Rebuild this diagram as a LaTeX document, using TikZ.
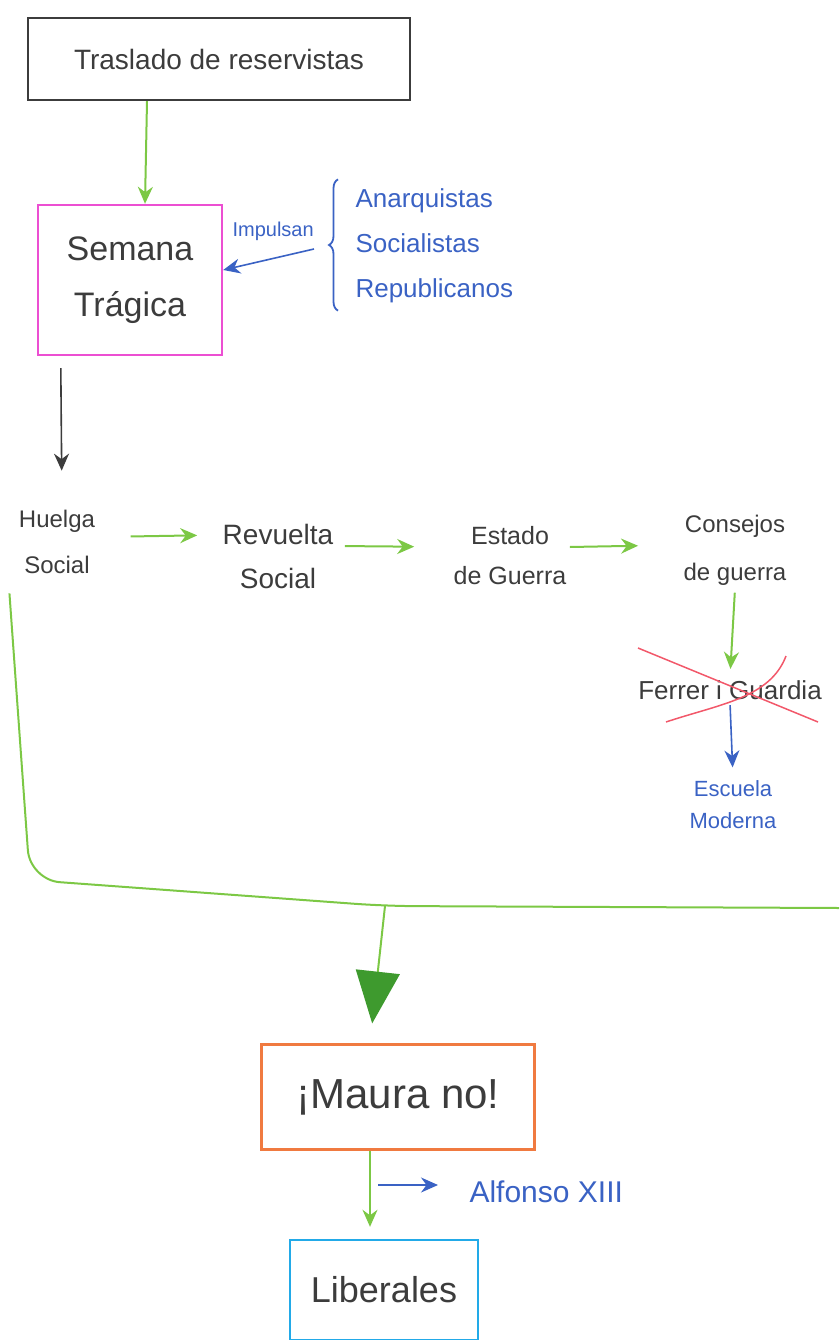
\documentclass[tikz,border=0pt]{standalone}
\usepackage{fontspec}
\setmainfont{Liberation Sans}
\usetikzlibrary{arrows.meta,decorations.pathreplacing}
\definecolor{tinta}{HTML}{3C3C3C}
\definecolor{verde}{HTML}{7CC845}
\definecolor{verdeosc}{HTML}{3E9A2E}
\definecolor{azul}{HTML}{3A62C4}
\definecolor{rosa}{HTML}{EC4FD2}
\definecolor{naranja}{HTML}{F07A40}
\definecolor{celeste}{HTML}{22AAE8}
\definecolor{rojo}{HTML}{F2586A}
\begin{document}
\begin{tikzpicture}[x=1pt, y=-1pt, >={Stealth[length=17pt, width=15pt]},
    caja/.style={draw, line width=2.4pt, inner sep=0pt},
    texto/.style={text=tinta, align=center},
    flecha/.style={->, line width=2pt, draw=verde, color=verde}]
    \useasboundingbox (0,0) rectangle (839,1340);
    % Cajas
    \node[caja, texto, draw=tinta, minimum width=382, minimum height=82, font=\fontsize{28}{34}\selectfont] (traslado) at (219,59) {Traslado de reservistas};
    \node[caja, texto, draw=rosa, minimum width=184, minimum height=150, font=\fontsize{34}{56}\selectfont] (semana) at (130,280) {Semana\\Trágica};
    \node[caja, texto, draw=naranja, minimum width=273, minimum height=105, font=\fontsize{42}{50}\selectfont] (maura) at (398,1097) {¡Maura no!};
    \node[caja, texto, draw=celeste, minimum width=188, minimum height=100, font=\fontsize{36}{42}\selectfont] (liberales) at (384,1290) {Liberales};
    % Partidos
    \node[text=azul, align=left, anchor=west, font=\fontsize{26}{45}\selectfont] (partidos) at (352,246) {Anarquistas\\Socialistas\\Republicanos};
    \draw[azul, line width=1.8pt, decorate, decoration={brace, amplitude=9pt}] ([xshift=-14, yshift=-4]partidos.south west) -- ([xshift=-14, yshift=6]partidos.north west) coordinate[midway] (llave);
    \draw[azul, line width=1.6pt, ->] ([xshift=-24, yshift=-4]llave) -- ([yshift=10]semana.east) node[pos=0.45, above=14pt, font=\fontsize{20}{24}\selectfont] {Impulsan};
    % Fila
    \node[texto, font=\fontsize{24}{46}\selectfont] (huelga) at (57,542) {Huelga\\Social};
    \node[texto, font=\fontsize{28}{44}\selectfont] (revuelta) at (278,556) {Revuelta\\Social};
    \node[texto, font=\fontsize{25}{40}\selectfont] (estado) at (510,556) {Estado\\de Guerra};
    \node[texto, font=\fontsize{24}{48}\selectfont] (consejos) at (735,550) {Consejos\\de guerra};
    \node[texto, font=\fontsize{26}{30}\selectfont] (ferrer) at (730,690) {Ferrer i Guardia};
    \node[text=azul, align=center, font=\fontsize{22}{32}\selectfont] (escuela) at (733,805) {Escuela\\Moderna};
    \node[text=azul, anchor=west, font=\fontsize{30}{36}\selectfont] (alfonso) at (466,1192) {Alfonso XIII};
    % Flechas
    \draw[flecha] (traslado.south -| 147,0) -- (semana.north -| 145,0);
    \draw[->, line width=1.6pt, tinta, shorten >=36] ([xshift=24, yshift=-12]semana.south west) -- ([xshift=5]huelga.north);
    \draw[flecha, shorten <=32, shorten >=22] (huelga.east |- 0,537) -- (revuelta.west |- 0,535);
    \draw[flecha, shorten <=8, shorten >=36] (revuelta.east |- 0,546) -- (estado.west |- 0,547);
    \draw[flecha, shorten <=0, shorten >=42] (estado.east |- 0,547) -- (consejos.west |- 0,545);
    \draw[flecha, shorten <=4, shorten >=8] (consejos.south) -- (ferrer.north);
    \draw[->, line width=1.6pt, azul, shorten <=2, shorten >=10] (ferrer.south) -- (escuela.north);
    % Tachado
    \draw[rojo, line width=1.5pt] ([shift={(-92,-42)}]ferrer.center) -- ([shift={(88,32)}]ferrer.center);
    \draw[rojo, line width=1.5pt] ([shift={(-64,32)}]ferrer.center) .. controls ([shift={(-10,14)}]ferrer.center) and ([shift={(40,8)}]ferrer.center) .. ([shift={(56,-34)}]ferrer.center);
    % Union
    \coordinate (union) at (385,906);
    \coordinate (borde) at (839,908);
    \draw[verde, line width=2pt, rounded corners=30] ([xshift=-6, yshift=-16]huelga.south west) -- (30,880) -- (union) -- (borde);
    \draw[verde, line width=2pt, -{Triangle[length=52pt, width=44pt, color=verdeosc]}, shorten >=20] (union) -- ([xshift=-28]maura.north);
    \draw[flecha, shorten >=12] ([xshift=-28]maura.south) -- ([xshift=-14]liberales.north);
    \coordinate (rama) at (378,1185);
    \draw[->, line width=1.6pt, azul, shorten >=28] (rama) -- (rama -| alfonso.west);
\end{tikzpicture}
\end{document}
